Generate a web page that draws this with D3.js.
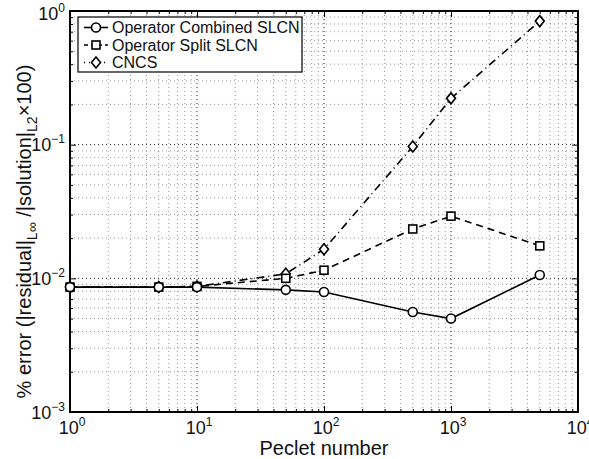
<!DOCTYPE html>
<html>
<head>
<meta charset="utf-8">
<script src="https://cdn.jsdelivr.net/npm/d3@7"></script>
<style>
  body { margin: 0; background: #fff; }
  svg { display: block; font-family: 'Liberation Sans', Arial, sans-serif; }
</style>
</head>
<body>
<svg width="589" height="459"></svg>
<script>
const peclet = [1, 5, 10, 50, 100, 500, 1000, 5000]
const combined = [0.0086, 0.0086, 0.0086, 0.0082, 0.0079, 0.0056, 0.0050, 0.0106]
const split = [0.0086, 0.0086, 0.0087, 0.0100, 0.0115, 0.0234, 0.0292, 0.0175]
const cncs = [0.0086, 0.0086, 0.0087, 0.0108, 0.0165, 0.097, 0.222, 0.84]
const seriesNames = ['Operator Combined SLCN', 'Operator Split SLCN', 'CNCS']
const xTicks = [1, 10, 100, 1000, 10000]
const yTicks = [0.001, 0.01, 0.1, 1]

const svg = d3.select('svg')
const margin = { left: 70, right: 11, top: 11, bottom: 47 }
const width = +svg.attr('width')
const height = +svg.attr('height')

const x = d3.scaleLog().domain([1, 10000]).range([margin.left, width - margin.right])
const y = d3.scaleLog().domain([0.001, 1]).range([height - margin.bottom, margin.top])

// minor ticks per decade
const minor = (lo, hi) => {
  const out = []
  for (let e = lo; e < hi; e++) for (let k = 2; k <= 9; k++) out.push(k * Math.pow(10, e))
  return out
}
const xMinor = minor(0, 4)
const yMinor = minor(-3, 0)

const [x0, x1] = x.range()
const [y0, y1] = y.range()

const grid = svg.append('g')
const vGrid = (vals, col) => grid.append('g').selectAll('line').data(vals).enter().append('line')
  .attr('x1', d => x(d)).attr('x2', d => x(d)).attr('y1', y0).attr('y2', y1)
  .attr('stroke', col).attr('stroke-width', 1).attr('stroke-dasharray', '1,3')
const hGrid = (vals, col) => grid.append('g').selectAll('line').data(vals).enter().append('line')
  .attr('y1', d => y(d)).attr('y2', d => y(d)).attr('x1', x0).attr('x2', x1)
  .attr('stroke', col).attr('stroke-width', 1).attr('stroke-dasharray', '1,3')
vGrid(xMinor, '#999'); hGrid(yMinor, '#999')
vGrid(xTicks, '#222'); hGrid(yTicks, '#222')

// axes with inward ticks on all four sides
const ax = (gen, tx, ty, vals, len) => svg.append('g')
  .attr('transform', `translate(${tx},${ty})`)
  .call(gen.tickValues(vals).tickSize(len).tickFormat(() => ''))
  .call(g => g.select('.domain').remove())
  .call(g => g.selectAll('line').attr('stroke', '#000').attr('stroke-width', 1))
ax(d3.axisTop(x), 0, y0, xTicks, 6); ax(d3.axisTop(x), 0, y0, xMinor, 3)
ax(d3.axisBottom(x), 0, y1, xTicks, 6); ax(d3.axisBottom(x), 0, y1, xMinor, 3)
ax(d3.axisRight(y), x0, 0, yTicks, 6); ax(d3.axisRight(y), x0, 0, yMinor, 3)
ax(d3.axisLeft(y), x1, 0, yTicks, 6); ax(d3.axisLeft(y), x1, 0, yMinor, 3)

svg.append('rect').attr('x', x0).attr('y', y1).attr('width', x1 - x0).attr('height', y0 - y1)
  .attr('fill', 'none').attr('stroke', '#000').attr('stroke-width', 2)

// tick labels 10^n
const expLabel = (sel) => {
  sel.append('tspan').text('10')
  sel.append('tspan').attr('dy', -8).attr('font-size', 12)
    .text(d => Math.round(Math.log10(d)).toString().replace('-', '\u2212'))
}
svg.append('g').selectAll('text').data(xTicks).enter().append('text')
  .attr('x', d => x(d) + 2).attr('y', y0 + 22).attr('text-anchor', 'middle')
  .attr('font-size', 18).attr('fill', '#111').call(expLabel)
svg.append('g').selectAll('text').data(yTicks).enter().append('text')
  .attr('x', x0 - 5).attr('y', d => Math.max(y(d) + 6.5, 20)).attr('text-anchor', 'end')
  .attr('font-size', 18).attr('fill', '#111').call(expLabel)

svg.append('text').attr('x', (x0 + x1) / 2).attr('y', height - 4)
  .attr('text-anchor', 'middle').attr('font-size', 20).attr('fill', '#111').text('Peclet number')

const yl = svg.append('text').attr('transform', `translate(31,${(y0 + y1) / 2 + 20}) rotate(-90)`)
  .attr('text-anchor', 'middle').attr('font-size', 20).attr('fill', '#111')
yl.append('tspan').text('% error (|residual|')
yl.append('tspan').attr('font-size', 14).attr('dy', 6).text('L\u221E')
yl.append('tspan').attr('dy', -6).text(' /|solution|')
yl.append('tspan').attr('font-size', 14).attr('dy', 6).text('L2')
yl.append('tspan').attr('dy', -6).text('\u00D7100)')

// series
const series = [
  { name: seriesNames[0], values: combined, dash: null, legendDash: null, marker: 'circle' },
  { name: seriesNames[1], values: split, dash: '7,5', legendDash: '4,3', marker: 'square' },
  { name: seriesNames[2], values: cncs, dash: '8,4,1,4', legendDash: '1,4', marker: 'diamond' }
]
const line = d3.line().x((d, i) => x(peclet[i])).y(d => y(d))

const drawMarker = (g, type, cx, cy) => {
  if (type === 'circle') {
    g.append('circle').attr('cx', cx).attr('cy', cy).attr('r', 4.5)
      .attr('fill', '#fff').attr('stroke', '#000').attr('stroke-width', 1.6)
  } else if (type === 'square') {
    g.append('rect').attr('x', cx - 4).attr('y', cy - 4).attr('width', 8).attr('height', 8)
      .attr('fill', '#fff').attr('stroke', '#000').attr('stroke-width', 1.6)
  } else {
    g.append('path').attr('d', `M${cx},${cy - 5.5}L${cx + 4.5},${cy}L${cx},${cy + 5.5}L${cx - 4.5},${cy}Z`)
      .attr('fill', '#fff').attr('stroke', '#000').attr('stroke-width', 1.6)
  }
}

// draw in reverse so the solid line sits on top
series.slice().reverse().forEach(s => {
  const g = svg.append('g')
  g.append('path').datum(s.values).attr('d', line)
    .attr('fill', 'none').attr('stroke', '#000').attr('stroke-width', 1.6)
    .attr('stroke-dasharray', s.dash)
  s.values.forEach((v, i) => drawMarker(g, s.marker, x(peclet[i]), y(v)))
})

// legend
const lg = svg.append('g')
lg.append('rect').attr('x', 78).attr('y', 17).attr('width', 224).attr('height', 55)
  .attr('fill', '#fff').attr('stroke', '#000').attr('stroke-width', 1.2)
series.forEach((s, i) => {
  const cy = 27.5 + i * 17.5
  lg.append('line').attr('x1', 84).attr('x2', 108).attr('y1', cy).attr('y2', cy)
    .attr('stroke', '#000').attr('stroke-width', 1.6).attr('stroke-dasharray', s.legendDash)
  drawMarker(lg, s.marker, 96, cy)
  lg.append('text').attr('x', 112).attr('y', cy + 5.5).attr('font-size', 16).attr('fill', '#111').text(s.name)
})
</script>
</body>
</html>
